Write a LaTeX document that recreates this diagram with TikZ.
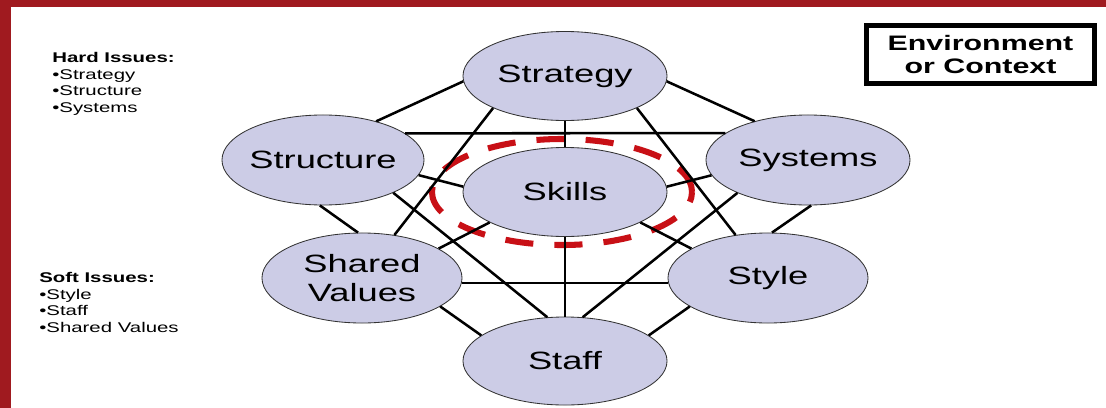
\documentclass[tikz,border=0pt]{standalone}
\usepackage{fontspec}
\setmainfont[FakeStretch=1.45]{Liberation Sans}
\usepackage{tikz}
\usetikzlibrary{shapes.geometric}
\definecolor{bandred}{RGB}{160,26,31}
\definecolor{ringred}{RGB}{200,16,22}
\definecolor{lilac}{RGB}{204,204,230}

\begin{document}
\begin{tikzpicture}[x=0.025cm, y=-0.025cm,
    sbox/.style={ellipse, draw=black!80, line width=0.6pt, fill=lilac,
        minimum width=5.1cm, minimum height=2.225cm, inner xsep=-30pt, inner ysep=-15pt,
        align=center, font=\fontsize{17.8}{21}\selectfont},
    link/.style={line width=1.8pt},
    ring/.style={ringred, line width=4.3pt, dash pattern=on 20pt off 15pt},
    notes/.style={anchor=north west, inner sep=0pt, align=left,
        font=\fontsize{10}{11.8}\selectfont},
    envbox/.style={draw, line width=3.6pt, minimum width=5.7cm, minimum height=1.45cm,
        inner sep=0pt, align=center, font=\bfseries\fontsize{14.9}{17}\selectfont}]
    \useasboundingbox (0,0) rectangle (1106,408);

    % 背景と赤い枠
    \fill[white] (0,0) rectangle (1106,408);
    \fill[bandred] (0,0) rectangle (1106,7);
    \fill[bandred] (0,0) rectangle (11,408);

    % 7つの要素
    \node[sbox] (strategy) at (565,76) {Strategy};
    \node[sbox, minimum width=5.05cm, minimum height=2.25cm] (structure) at (323,160) {Structure};
    \node[sbox] (skills) at (565,192) {Skills};
    \node[sbox, minimum height=2.25cm] (systems) at (808,160) {Systems};
    \node[sbox, minimum width=5cm, minimum height=2.25cm] (shared) at (362,278) {Shared\\Values};
    \node[sbox, minimum width=5cm, minimum height=2.25cm] (style) at (768,278) {Style};
    \node[sbox, minimum height=2.2cm] (staff) at (565,361) {Staff};

    % Skills を囲む破線
    \draw[ring] ([xshift=-0.075cm]skills.center) ellipse [x radius=3.25cm, y radius=1.325cm];

    % 上段からの線
    \draw[link] (strategy.183) -- (structure.36);
    \draw[link] (strategy.357) -- (systems.144);
    \draw[link] (strategy.south) -- (skills.north);
    \draw[link] (strategy.204) -- (shared.53);
    \draw[link] (strategy.336) -- (style.127);

    % 中段からの線
    \draw[link] (structure.18) -- (systems.162);
    \draw[link] (structure.351) -- (skills.177);
    \draw[link] (structure.266) -- (shared.95);
    \draw[link] (structure.335) -- (staff.112);
    \draw[link] (systems.189) -- (skills.3);
    \draw[link] (systems.274) -- (style.85);
    \draw[link] (systems.205) -- (staff.68);
    \draw[link] (skills.202) -- (shared.21);
    \draw[link] (skills.338) -- (style.159);
    \draw[link] (skills.south) -- (staff.north);

    % 下段の線
    \draw[link] (shared.357) -- (style.183);
    \draw[link] (shared.340) -- (staff.163);
    \draw[link] (style.200) -- (staff.17);

    % 左側のメモ
    \node[notes] (hard) at (52,52) {\textbf{Hard Issues:}\\•Strategy\\•Structure\\•Systems};
    \node[notes] (soft) at (39,272) {\textbf{Soft Issues:}\\•Style\\•Staff\\•Shared Values};

    % 右上の枠
    \node[envbox] (env) at (980.5,54.5) {Environment\\or Context};
\end{tikzpicture}
\end{document}
